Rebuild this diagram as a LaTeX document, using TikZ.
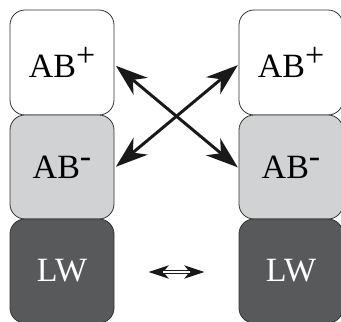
\documentclass[tikz,border=0pt]{standalone}
\usepackage{fontspec}
\setmainfont{Liberation Serif}
\usetikzlibrary{arrows.meta}
\definecolor{midgray}{HTML}{D1D2D4}
\definecolor{darkgray}{HTML}{58595B}
\definecolor{edgegray}{HTML}{333333}
\newcommand{\supplus}{\raisebox{0.3em}{+}}
\newcommand{\supminus}{\raisebox{0.32em}{-}}
\begin{document}
\begin{tikzpicture}[x=1pt,y=-1pt]
\tikzset{
  box/.style={draw=edgegray, line width=0.8pt, rounded corners=15pt,
    minimum width=104pt, inner sep=0pt,
    font=\fontsize{34}{40}\selectfont},
  topbox/.style={box, fill=white, minimum height=105pt},
  midbox/.style={box, fill=midgray, minimum height=104pt},
  lowbox/.style={box, fill=darkgray, text=white, minimum height=104pt},
  bigarrow/.style={arrows={Stealth[length=32pt,width=22pt,inset=10pt]-Stealth[length=32pt,width=22pt,inset=10pt]}, line width=3pt, black!90},
  smallarrow/.style={arrows={Stealth[length=20pt,width=13pt,inset=5pt]-Stealth[length=20pt,width=13pt,inset=5pt]}, line width=3.4pt, black!90},
  smallcore/.style={line width=1.4pt, white}
}
\useasboundingbox (0,0) rectangle (341,322);
\clip (0,0) rectangle (341,322);
\node[topbox] (lt) at (62,62.5) {AB\supplus};
\node[midbox] (lm) at (62,167) {AB\supminus};
\node[lowbox] (lb) at (62,271) {LW};
\node[topbox] (rt) at (291,62.5) {AB\supplus};
\node[midbox] (rm) at (291,167) {AB\supminus};
\node[lowbox] (rb) at (291,271) {LW};
\draw[bigarrow, shorten <=2pt, shorten >=1pt] ([yshift=-2pt]lt.east) -- ([yshift=-1pt]rm.west);
\draw[bigarrow, shorten <=2pt, shorten >=1pt] ([yshift=-1pt]lm.east) -- ([yshift=-2pt]rt.west);
\draw[smallarrow, shorten <=34pt, shorten >=34pt] ([yshift=-1pt]lb.east) -- ([yshift=-1pt]rb.west);
\draw[smallcore, shorten <=49pt, shorten >=49pt] ([yshift=-1pt]lb.east) -- ([yshift=-1pt]rb.west);
\end{tikzpicture}
\end{document}
